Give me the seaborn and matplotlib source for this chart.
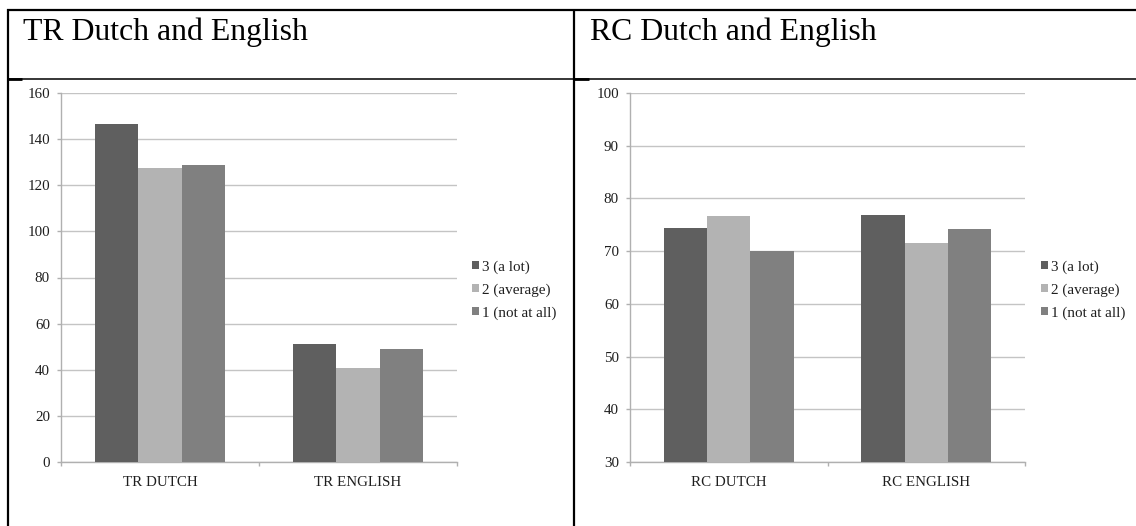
import numpy as np
import pandas as pd
import matplotlib
matplotlib.use("Agg")
import matplotlib.pyplot as plt
from matplotlib.lines import Line2D
from matplotlib.patches import Patch
import seaborn as sns

# ---- data -------------------------------------------------------------
levels = ["3 (a lot)", "2 (average)", "1 (not at all)"]

tr_categories = ["TR DUTCH", "TR ENGLISH"]
tr_a_lot = [146.7, 51.0]
tr_average = [127.3, 40.8]
tr_not_at_all = [128.9, 49.0]

rc_categories = ["RC DUTCH", "RC ENGLISH"]
rc_a_lot = [74.3, 76.9]
rc_average = [76.6, 71.6]
rc_not_at_all = [70.0, 74.2]

tr_ticks = [0, 20, 40, 60, 80, 100, 120, 140, 160]
rc_ticks = [30, 40, 50, 60, 70, 80, 90, 100]

titles = ["TR Dutch and English", "RC Dutch and English"]

# ---- style ------------------------------------------------------------
sns.set_theme(style="white")
plt.rcParams["font.family"] = ["Liberation Serif", "DejaVu Serif"]

bar_colors = ["#5f5f5f", "#b3b3b3", "#808080"]
grid_color = "#c4c4c4"
axis_color = "#b0b0b0"
text_color = "#1e1e1e"

W, H = 1136, 526
fig = plt.figure(figsize=(W / 100, H / 100), dpi=100)
fig.patch.set_facecolor("white")


def px_rect(x0, y0, x1, y1):
    """Pixel box (top-left origin) -> figure fraction rect."""
    return [x0 / W, 1 - y1 / H, (x1 - x0) / W, (y1 - y0) / H]


def long_table(cats, a, b, c):
    rows = []
    for lvl, vals in zip(levels, [a, b, c]):
        for cat, v in zip(cats, vals):
            rows.append({"category": cat, "level": lvl, "value": v})
    return pd.DataFrame(rows)


def draw_panel(rect, df, cats, ticks, legend_xy):
    ax = fig.add_axes(rect)
    sns.barplot(data=df, x="category", y="value", hue="level",
                order=cats, hue_order=levels, palette=bar_colors,
                saturation=1, width=0.66, linewidth=0, ax=ax,
                errorbar=None, legend=False, zorder=3)
    ax.set_ylim(ticks[0], ticks[-1])
    ax.set_yticks(ticks)
    ax.set_yticklabels([str(t) for t in ticks])
    ax.set_xlim(-0.5, len(cats) - 0.5)
    ax.set_xlabel("")
    ax.set_ylabel("")

    # horizontal gridlines
    ax.yaxis.grid(True, color=grid_color, linewidth=1.0, zorder=0)
    ax.xaxis.grid(False)
    ax.set_axisbelow(True)

    for side in ["top", "right"]:
        ax.spines[side].set_visible(False)
    for side in ["left", "bottom"]:
        ax.spines[side].set_color(axis_color)
        ax.spines[side].set_linewidth(1.0)

    # category boundary ticks below the axis
    ax.set_xticks(np.arange(-0.5, len(cats), 1.0), minor=True)
    ax.tick_params(axis="x", which="minor", length=3, width=1,
                   color=axis_color, direction="out", bottom=True)
    ax.tick_params(axis="x", which="major", length=0, pad=10,
                   labelsize=10.8, labelcolor=text_color)
    ax.tick_params(axis="y", which="major", length=3, width=1,
                   color=axis_color, direction="out", left=True, pad=5,
                   labelsize=10.8, labelcolor=text_color)

    handles = [Patch(facecolor=c, edgecolor="none") for c in bar_colors]
    ax.legend(handles, levels, loc="center left",
              bbox_to_anchor=(legend_xy[0] / W, 1 - legend_xy[1] / H),
              bbox_transform=fig.transFigure, frameon=False,
              fontsize=10.9, handlelength=0.45, handleheight=0.45,
              handletextpad=0.2, labelspacing=0.62, borderpad=0,
              borderaxespad=0, labelcolor=text_color)
    return ax


df_tr = long_table(tr_categories, tr_a_lot, tr_average, tr_not_at_all)
df_rc = long_table(rc_categories, rc_a_lot, rc_average, rc_not_at_all)

draw_panel(px_rect(61, 93, 457, 462), df_tr, tr_categories, tr_ticks, (472, 290))
draw_panel(px_rect(630, 93, 1025, 462), df_rc, rc_categories, rc_ticks, (1041, 290))

# ---- table frame --------------------------------------------------------
def hline(y, x0, x1, lw):
    fig.add_artist(Line2D([x0 / W, x1 / W], [1 - y / H, 1 - y / H],
                          color="black", linewidth=lw,
                          transform=fig.transFigure, solid_capstyle="butt"))


def vline(x, y0, y1, lw):
    fig.add_artist(Line2D([x / W, x / W], [1 - y0 / H, 1 - y1 / H],
                          color="black", linewidth=lw,
                          transform=fig.transFigure, solid_capstyle="butt"))


hline(10, 7, W, 1.6)
hline(79, 7, W, 1.1)
hline(79, 7, 22, 2.0)
hline(79, 574, 589, 2.0)
vline(8, 9, H, 1.6)
vline(574, 9, H, 1.6)

for x, t in zip([23, 590], titles):
    fig.text(x / W, 1 - 40 / H, t, fontsize=22.9, color="black",
             ha="left", va="baseline")

fig.savefig("out.png", dpi=100, facecolor="white")
